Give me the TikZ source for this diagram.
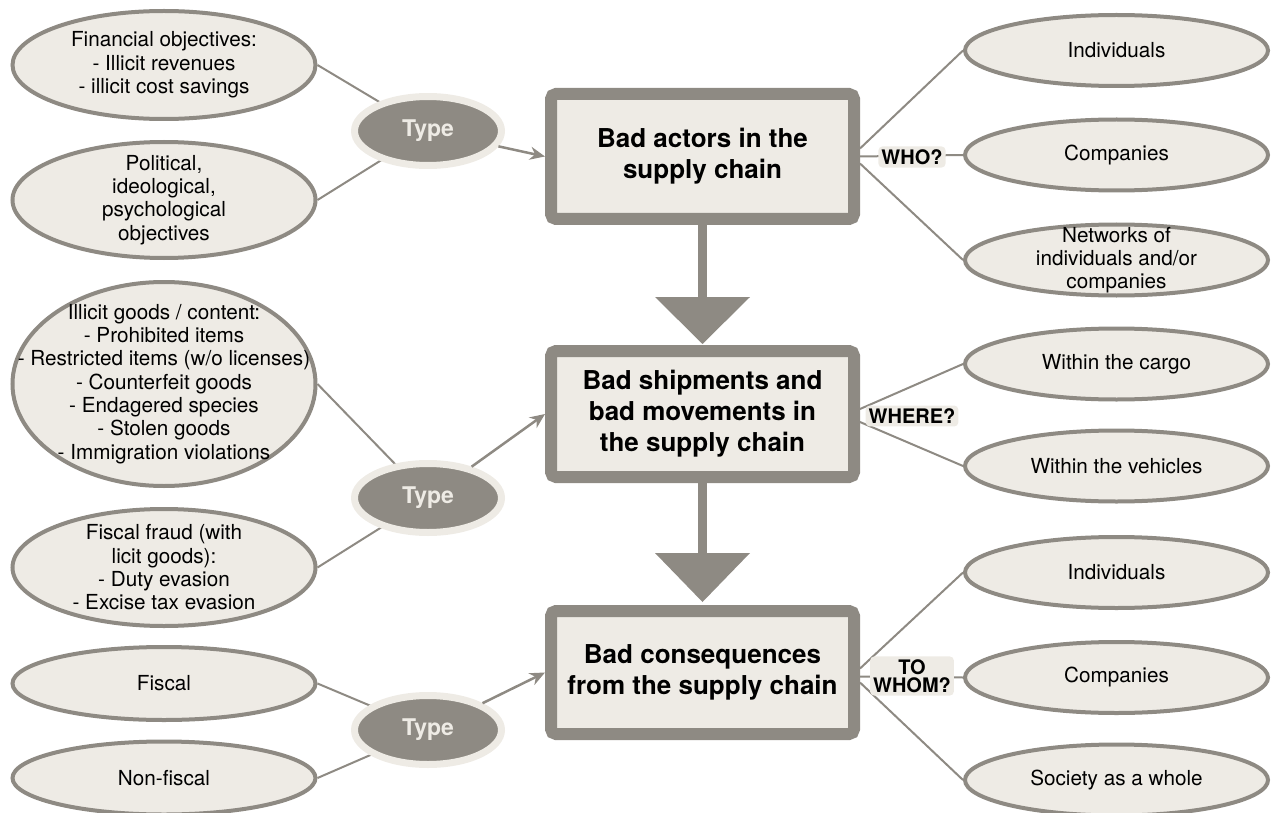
\documentclass[tikz,border=0pt]{standalone}
\usepackage{fontspec}
\setmainfont{TeX Gyre Heros}
\usetikzlibrary{shapes.geometric,arrows.meta}
\definecolor{bord}{HTML}{8E8A83}
\definecolor{fillb}{HTML}{EEEBE5}
\pgfdeclarelayer{bg}
\pgfsetlayers{bg,main}
\begin{document}
\begin{tikzpicture}[x=1pt,y=-1pt,
  oval/.style={ellipse, draw=bord, fill=fillb, line width=4pt, inner sep=0pt, minimum width=303pt},
  box/.style={rectangle, draw=bord, fill=fillb, line width=12pt, rounded corners=5pt, minimum width=303pt, align=center, font=\fontsize{26}{31}\selectfont\bfseries},
  typ/.style={ellipse, fill=bord, draw=fillb, line width=7pt, minimum width=147pt, minimum height=69pt, inner sep=0pt, text=fillb, font=\fontsize{23}{27}\selectfont\bfseries},
  txt/.style={align=center, font=\fontsize{20.7}{23.3}\selectfont},
  conn/.style={draw=bord, line width=2pt},
  arr/.style={draw=bord, line width=2.5pt, -{Stealth[length=15pt,width=13pt]}},
  tag/.style={fill=fillb, rounded corners=4pt, inner sep=3pt, font=\fontsize{20}{18}\selectfont\bfseries, align=center}
]
\useasboundingbox (0,0) rectangle (1274,813);

% left ellipses
\node[oval, minimum height=108pt] (E1) at (164,65) {};
\node[txt] (E1t) at (E1) {Financial objectives:\\- Illicit revenues\\- illicit cost savings};
\node[oval, minimum height=116pt] (E2) at (164,200) {};
\node[txt] (E2t) at (E2) {Political,\\ideological,\\psychological\\objectives};
\node[oval, minimum height=204pt] (E3) at (164,384) {};
\node[txt] (E3t) at (E3) {Illicit goods / content:\\- Prohibited items\\- Restricted items (w/o licenses)\\- Counterfeit goods\\- Endagered species\\- Stolen goods\\- Immigration violations};
\node[oval, minimum height=117pt] (E4) at (164,567.5) {};
\node[txt] (E4t) at (E4) {Fiscal fraud (with\\licit goods):\\- Duty evasion\\- Excise tax evasion};
\node[oval, minimum height=73pt] (E5) at (164,683.5) {};
\node[txt] (E5t) at (E5) {Fiscal};
\node[oval, minimum height=73pt] (E6) at (164,778) {};
\node[txt] (E6t) at (E6) {Non-fiscal};

% type ovals
\node[typ] (T1) at (428,131) {Type};
\node[typ] (T2) at (428,498) {Type};
\node[typ] (T3) at (428,730) {Type};

% central boxes
\node[box, minimum height=125pt] (B1) at (702.5,156.5) {Bad actors in the\\supply chain};
\node[box, minimum height=126pt] (B2) at (702.5,414) {Bad shipments and\\bad movements in\\the supply chain};
\node[box, minimum height=123pt] (B3) at (702.5,672.5) {Bad consequences\\from the supply chain};

% right ellipses
\node[oval, minimum height=71pt] (R1) at (1116.5,50.5) {};
\node[txt] (R1t) at (R1) {Individuals};
\node[oval, minimum height=71pt] (R2) at (1116.5,155) {};
\node[txt] (R2t) at (R2) {Companies};
\node[oval, minimum height=71pt] (R3) at (1116.5,260) {};
\node[txt] (R3t) at (R3) {Networks of\\individuals and/or\\companies};
\node[oval, minimum height=71pt] (R4) at (1116.5,364) {};
\node[txt] (R4t) at (R4) {Within the cargo};
\node[oval, minimum height=71pt] (R5) at (1116.5,466) {};
\node[txt] (R5t) at (R5) {Within the vehicles};
\node[oval, minimum height=71pt] (R6) at (1116.5,572.5) {};
\node[txt] (R6t) at (R6) {Individuals};
\node[oval, minimum height=71pt] (R7) at (1116.5,677.5) {};
\node[txt] (R7t) at (R7) {Companies};
\node[oval, minimum height=71pt] (R8) at (1116.5,780) {};
\node[txt] (R8t) at (R8) {Society as a whole};

% big arrows between boxes
\coordinate (A1) at (702.5,297);
\coordinate (A2) at (702.5,553);
\begin{pgfonlayer}{bg}
\draw[bord, line width=9pt] (B1.south) -- (A1);
\draw[bord, line width=9pt] (B2.south) -- (A2);
\end{pgfonlayer}
\fill[bord] ([xshift=-47.5pt]A1) -- ([xshift=47.5pt]A1) -- ([yshift=1pt]B2.north) -- cycle;
\fill[bord] ([xshift=-47.5pt]A2) -- ([xshift=47.5pt]A2) -- ([yshift=3pt]B3.north) -- cycle;

% connectors left
\begin{pgfonlayer}{bg}
\draw[conn] (E1.east) -- (T1.center);
\draw[conn] (E2.east) -- (T1.center);
\draw[conn] (E3.east) -- (T2.center);
\draw[conn] (E4.east) -- (T2.center);
\draw[conn] (E5.east) -- (T3.center);
\draw[conn] (E6.east) -- (T3.center);
% connectors right
\draw[conn] ([yshift=8pt]B1.east) -- (R1.west);
\draw[conn] (B1.east) -- (R2.west);
\draw[conn] ([yshift=-7pt]B1.east) -- (R3.west);
\draw[conn] ([yshift=5pt]B2.east) -- (R4.west);
\draw[conn] ([yshift=-8pt]B2.east) -- (R5.west);
\draw[conn] ([yshift=4pt]B3.east) -- (R6.west);
\draw[conn] ([yshift=-4pt]B3.east) -- (R7.west);
\draw[conn] ([yshift=-10pt]B3.east) -- (R8.west);
\end{pgfonlayer}

\draw[arr] (T1) -- (B1.west);
\draw[arr] (T2) -- (B2.west);
\draw[arr] (T3) -- (B3.west);

% question tags
\node[tag] (WHO) at (912,157) {WHO?};
\node[tag] (WHERE) at (912,416) {WHERE?};
\node[tag] (TOWHOM) at (912,676) {TO\\WHOM?};
\end{tikzpicture}
\end{document}
